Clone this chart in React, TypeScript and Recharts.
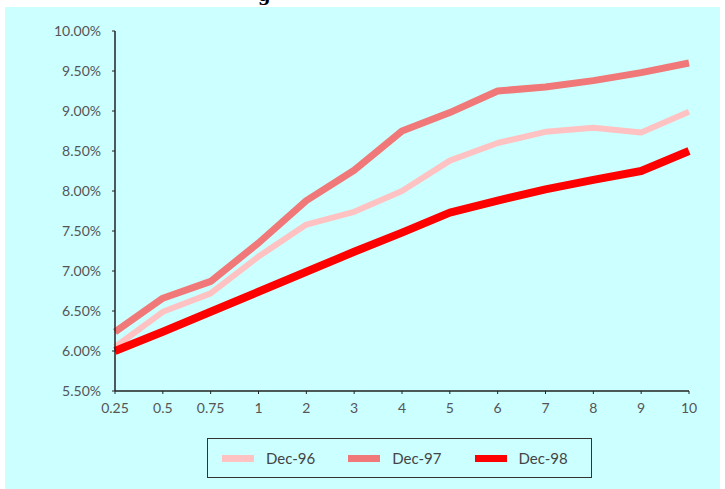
import React from "react";
import { LineChart, Line, XAxis, YAxis } from "recharts";

const maturities = ["0.25", "0.5", "0.75", "1", "2", "3", "4", "5", "6", "7", "8", "9", "10"];
const dec96 = [6.05, 6.49, 6.72, 7.18, 7.58, 7.74, 8.0, 8.38, 8.6, 8.74, 8.79, 8.73, 8.99];
const dec97 = [6.24, 6.66, 6.87, 7.35, 7.88, 8.26, 8.75, 8.98, 9.25, 9.3, 9.38, 9.48, 9.6];
const dec98 = [6.0, 6.24, 6.49, 6.74, 6.99, 7.24, 7.48, 7.73, 7.88, 8.02, 8.14, 8.25, 8.5];
const yTicks = [5.5, 6.0, 6.5, 7.0, 7.5, 8.0, 8.5, 9.0, 9.5, 10.0];

const seriesNames = ["Dec-96", "Dec-97", "Dec-98"];
const seriesColors = ["#FFC2C2", "#F07878", "#FF0000"];
const seriesWidths = [6, 7, 8];

const data = maturities.map((m, i) => ({
  m,
  "Dec-96": dec96[i],
  "Dec-97": dec97[i],
  "Dec-98": dec98[i],
}));

const font = "Lato, 'Open Sans', sans-serif";

export default function App() {
  return (
    <div style={{ position: "absolute", left: 0, top: 0, width: 725, height: 489, background: "#fff", overflow: "hidden" }}>
      <svg width={725} height={8} style={{ position: "absolute", left: 0, top: 0 }}>
        <text x={258} y={1} fontFamily="'DejaVu Serif', serif" fontWeight="bold" fontSize={18} fill="#000">g</text>
      </svg>
      <div style={{ position: "absolute", left: 5, top: 7, width: 715, height: 482, background: "#CCFFFF" }} />
      <div style={{ position: "absolute", left: 0, top: 0 }}>
        <LineChart width={725} height={489} data={data} margin={{ top: 31, right: 36, bottom: 68, left: 55 }}>
          <XAxis
            dataKey="m"
            type="category"
            padding={{ left: 0, right: 0 }}
            height={30}
            interval={0}
            tickSize={3}
            tickMargin={9}
            axisLine={{ stroke: "#222", strokeWidth: 1.5 }}
            tickLine={{ stroke: "#222" }}
            tick={{ fill: "#555", fontSize: 14, fontFamily: font }}
          />
          <XAxis xAxisId="top" dataKey="m" orientation="top" height={0} tick={false} tickLine={false} axisLine={{ stroke: "#333", strokeWidth: 1.5 }} />
          <YAxis
            domain={[5.5, 10]}
            ticks={yTicks}
            type="number"
            width={60}
            interval={0}
            tickSize={3}
            tickMargin={11}
            axisLine={{ stroke: "#222", strokeWidth: 1.5 }}
            tickLine={{ stroke: "#222" }}
            tickFormatter={(v: number) => v.toFixed(2) + "%"}
            tick={{ fill: "#555", fontSize: 14, fontFamily: font }}
          />
          <YAxis yAxisId="right" orientation="right" domain={[5.5, 10]} width={0} tick={false} tickLine={false} axisLine={{ stroke: "#444", strokeWidth: 2 }} />
          {seriesNames.map((n, i) => (
            <Line
              key={n}
              dataKey={n}
              stroke={seriesColors[i]}
              strokeWidth={seriesWidths[i]}
              dot={false}
              isAnimationActive={false}
              type="linear"
              strokeLinejoin="round"
            />
          ))}
        </LineChart>
      </div>
      <div
        style={{
          position: "absolute",
          left: 207,
          top: 438,
          width: 385,
          height: 40,
          border: "1.5px solid #333",
          boxSizing: "border-box",
          display: "flex",
          alignItems: "center",
          fontFamily: font,
          fontSize: 15,
          color: "#444",
        }}
      >
        {seriesNames.map((n, i) => (
          <div key={n} style={{ display: "flex", alignItems: "center", marginLeft: i === 0 ? 14 : 33 }}>
            <div style={{ width: 32, height: 7, background: seriesColors[i], marginRight: 12 }} />
            <span>{n}</span>
          </div>
        ))}
      </div>
    </div>
  );
}
